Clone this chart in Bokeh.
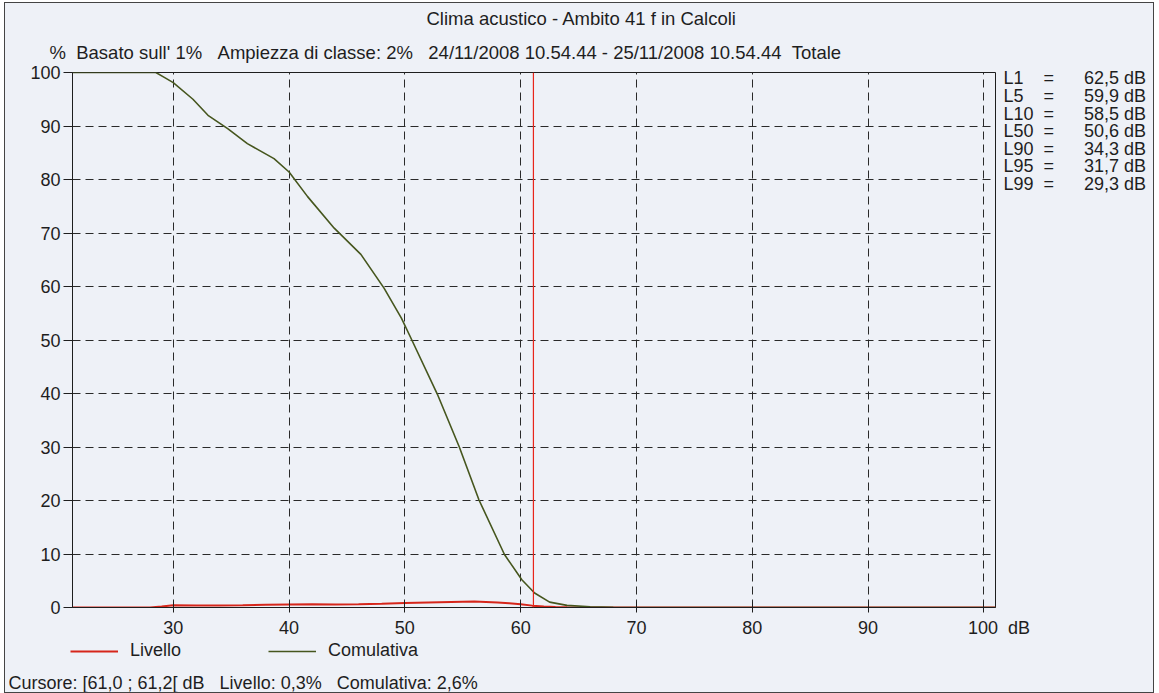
from bokeh.plotting import figure
from bokeh.layouts import column, row
from bokeh.models import Range1d, FixedTicker, Legend, LegendItem, Span, Title, LinearAxis
from bokeh.core.properties import value
from bokeh.embed import file_html
from bokeh.resources import INLINE

# ---------------- data ----------------
title_text = "Clima acustico - Ambito 41 f in Calcoli"
subtitle_text = "Basato sull' 1%   Ampiezza di classe: 2%   24/11/2008 10.54.44 - 25/11/2008 10.54.44  Totale"
unit_y = "%"
unit_x = "dB"
cursor_text = "Cursore: [61,0 ; 61,2[ dB   Livello: 0,3%   Comulativa: 2,6%"
series_names = ["Livello", "Comulativa"]

stat_names = ["L1", "L5", "L10", "L50", "L90", "L95", "L99"]
stat_values = ["62,5 dB", "59,9 dB", "58,5 dB", "50,6 dB", "34,3 dB", "31,7 dB", "29,3 dB"]

# Livello (distribution per class, %)
level_db = [21.3, 26.0, 28.0, 29.0, 30.0, 32.0, 34.0, 36.0, 38.0, 40.0, 42.0, 44.0, 46.0,
            48.0, 50.0, 52.0, 54.0, 56.0, 57.0, 58.0, 59.0, 60.0, 61.0, 62.0, 63.0, 64.0,
            66.0, 70.0, 101.0]
level_pct = [0.0, 0.0, 0.02, 0.2, 0.4, 0.38, 0.36, 0.4, 0.5, 0.55, 0.6, 0.58, 0.6,
             0.7, 0.85, 0.95, 1.05, 1.1, 1.05, 0.95, 0.8, 0.6, 0.35, 0.2, 0.1, 0.05,
             0.02, 0.0, 0.0]

# Comulativa (% exceeded)
cum_db = [21.3, 28.5, 29.3, 30.0, 31.7, 33.0, 34.7, 36.4, 38.7, 40.0, 41.6, 43.9, 46.2,
          48.2, 49.7, 50.6, 52.8, 54.7, 56.4, 58.6, 60.1, 61.2, 62.5, 64.0, 66.0, 68.0,
          70.0, 101.0]
cum_pct = [100.0, 100.0, 99.0, 98.1, 95.0, 92.0, 89.5, 86.7, 83.9, 81.4, 76.8, 70.9, 66.0,
           59.7, 54.1, 50.0, 39.9, 30.0, 20.1, 9.9, 5.2, 2.7, 1.0, 0.4, 0.15, 0.05,
           0.0, 0.0]

cursor_db = 61.1

x_ticks = [30, 40, 50, 60, 70, 80, 90, 100]
y_ticks = [0, 10, 20, 30, 40, 50, 60, 70, 80, 90, 100]
y_grid = [10, 20, 30, 40, 50, 60, 70, 80, 90]

# ---------------- styles / layout ----------------
W, H = 1148, 689                 # content size inside the outer border
MAIN_H = 637
FL, FT, FR, FB = 67, 68, 990, 605  # main frame edges (content px)
X0, X1 = 21.3, 101.0
Y0, Y1 = 0.0, 100.0

FONT = "Liberation Sans"
FS = "18px"
FS_T = "18.5px"
BG = "#eef1f7"
INK = "#1e1e1e"
RED = "#d6261b"
GREEN = "#46561e"
NB = "\u00a0"

# ---------------- main chart ----------------
p = figure(width=W, height=MAIN_H, output_backend="svg", toolbar_location=None,
           x_range=Range1d(X0, X1), y_range=Range1d(Y0, Y1),
           min_border_left=FL, min_border_right=W - FR,
           min_border_top=FT, min_border_bottom=MAIN_H - FB)
p.background_fill_color = BG
p.border_fill_color = BG
p.outline_line_color = INK
p.outline_line_width = 1

p.xgrid.ticker = FixedTicker(ticks=x_ticks)
p.ygrid.ticker = FixedTicker(ticks=y_grid)
for g in (p.xgrid, p.ygrid):
    g.grid_line_color = "#2a2a2a"
    g.grid_line_dash = "8 5"
    g.grid_line_width = 1

p.xaxis.ticker = FixedTicker(ticks=x_ticks)
p.yaxis.ticker = FixedTicker(ticks=y_ticks)
p.xaxis.major_label_overrides = {100: NB * 6 + "100" + NB * 2 + unit_x}
for ax in (p.xaxis, p.yaxis):
    ax.axis_line_color = INK
    ax.major_tick_line_color = INK
    ax.minor_tick_line_color = None
    ax.major_label_text_font = FONT
    ax.major_label_text_font_size = FS
    ax.major_label_text_color = INK
p.xaxis.major_tick_in = 6
p.xaxis.major_tick_out = 5
p.xaxis.major_label_standoff = 5
p.yaxis.major_tick_in = 0
p.yaxis.major_tick_out = 9
p.yaxis.major_label_standoff = 3

p.line(level_db, level_pct, line_color=RED, line_width=2)
p.line(cum_db, cum_pct, line_color=GREEN, line_width=1.6)
p.add_layout(Span(location=cursor_db, dimension="height", line_color="#e8251a", line_width=1.2))

# titles
p.title.text = title_text
p.title.align = "left"
p.title.offset = 354
p.title.text_font = FONT
p.title.text_font_size = FS_T
p.title.text_font_style = "normal"
p.title.text_color = INK
p.title.standoff = 4

sub = Title(text=unit_y + NB * 2 + subtitle_text.replace(" ", NB), align="left", offset=-23,
            text_font=FONT, text_font_size=FS_T, text_font_style="normal",
            text_color=INK, standoff=19)
p.add_layout(sub, "above")

# ---------------- statistics (right side, as axis labels) ----------------
row0, row_step = 74, 17.6          # content px of first row, row pitch
n_rows = len(stat_names)
stats_range = Range1d(start=(FB - row0) / row_step, end=(FT - row0) / row_step)
p.extra_y_ranges = {"stats": stats_range}
pad_name = {2: 4, 3: 2}
stat_labels = {}
for i, (n, v) in enumerate(zip(stat_names, stat_values)):
    stat_labels[i] = n + NB * pad_name[len(n)] + "=" + NB * 6 + v.replace(" ", NB)
stats_axis = LinearAxis(y_range_name="stats", ticker=FixedTicker(ticks=list(range(n_rows))),
                        major_label_overrides=stat_labels,
                        axis_line_color=None, major_tick_line_color=None,
                        minor_tick_line_color=None, major_tick_in=0, major_tick_out=0,
                        major_label_standoff=8, major_label_text_font=FONT,
                        major_label_text_font_size=FS, major_label_text_color=INK)
p.add_layout(stats_axis, "right")

# ---------------- legend + cursor (bottom) ----------------
BH = H - MAIN_H
BW = W
b = figure(width=BW, height=BH, output_backend="svg", toolbar_location=None,
           x_range=Range1d(0, BW), y_range=Range1d(BH, 0),
           min_border=0, x_axis_type=None, y_axis_type=None)
b.background_fill_color = BG
b.border_fill_color = BG
b.outline_line_color = None
b.grid.visible = False

# legend sample renderers (kept off-canvas, only their styles are shown in the legend)
g1 = b.line([-50, -40], [-50, -50], line_color=RED, line_width=2)
g2 = b.line([-50, -40], [-50, -50], line_color=GREEN, line_width=1.6)
leg = Legend(items=[LegendItem(label=series_names[0], renderers=[g1]),
                    LegendItem(label=series_names[1], renderers=[g2])],
             orientation="horizontal", location=(65, BH - 21),
             glyph_width=48, glyph_height=16, label_height=16, label_standoff=12,
             spacing=87, padding=0, margin=0, border_line_color=None,
             background_fill_alpha=0, label_text_font=FONT, label_text_font_size=FS,
             label_text_color=INK)
b.add_layout(leg)

b.text(x=[3], y=[42], text=[cursor_text.replace(" ", NB)], text_font=value(FONT),
       text_font_size=FS, text_color=INK, text_align="left", text_baseline="middle")

# the chart is wrapped in its own row so its frame is not aligned with the bottom strip
layout = column(row(p), b)
layout.styles = {"border": "1px solid #444", "margin-left": "4px", "margin-top": "2px",
                 "background-color": BG}

open("out.html", "w").write(file_html(layout, INLINE))
